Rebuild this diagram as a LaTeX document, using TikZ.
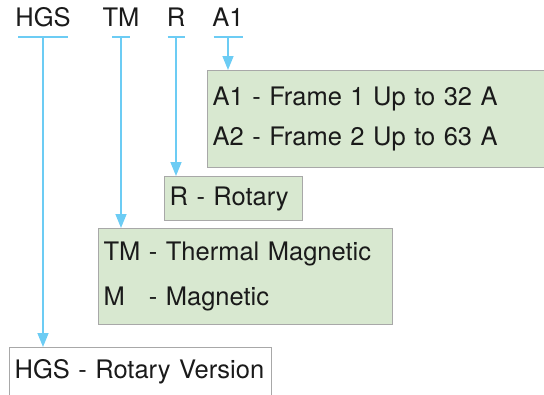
\documentclass[tikz,border=0pt]{standalone}
\usepackage{fontspec}
\setmainfont{TeX Gyre Heros}
\usetikzlibrary{arrows.meta, positioning}
\definecolor{connC}{RGB}{108, 204, 244}
\definecolor{boxG} {RGB}{216, 232, 208}
\definecolor{edgeC}{RGB}{168, 168, 168}
\definecolor{txtC} {RGB}{ 26,  26,  26}

\tikzset{
  code/.style={font=\fontsize{25.5}{30}\selectfont, text=txtC, inner xsep=0pt,
    inner ysep=10pt, text depth=0pt, anchor=south},
  bar/.style={connC, line width=1.5pt},
  conn/.style={connC, line width=1.5pt, -{Triangle[width=11pt, length=14pt]}},
  optbox/.style={draw=edgeC, fill=boxG, line width=1.2pt, inner xsep=5pt,
    inner ysep=0pt, align=left, anchor=north west, text=txtC,
    font=\fontsize{25.5}{30}\selectfont}
}

\begin{document}
\begin{tikzpicture}[x=1pt, y=-1pt]

\useasboundingbox (0,0) rectangle (544,394);
\begin{scope}
\clip (0,0) rectangle (544,394);

% Ordering code
\node[code] (hgs) at (43,37)  {HGS};
\node[code] (tm)  at (121,37) {TM};
\node[code] (r)   at (176,37) {R};
\node[code] (a1)  at (228,37) {A1};

% Option boxes
\node[optbox, text width=335pt, minimum height=97pt] (abox) at (207,70)
  {A1 - Frame 1 Up to 32 A\\[10pt]A2 - Frame 2 Up to 63 A};
\node[optbox, text width=128pt, minimum height=44pt] (rbox) at (164,176)
  {R - Rotary};
\node[optbox, text width=284pt, minimum height=96pt] (tmbox) at (98,228)
  {TM - Thermal Magnetic\\[15pt]M\hphantom{T} - Magnetic};
\node[optbox, fill=white, text width=252pt, minimum height=48pt] (hgsbox) at (9,347)
  {HGS - Rotary Version};

% Bars under the code
\foreach \n/\w in {hgs/25, tm/9, r/8.5, a1/14.5}
  \draw[bar] ([xshift=-\w pt]\n.south) -- ([xshift=\w pt]\n.south);

% Connectors
\draw[conn] (a1.south)  -- (a1.south |- abox.north);
\draw[conn] (r.south)   -- (r.south |- rbox.north);
\draw[conn] (tm.south)  -- (tm.south |- tmbox.north);
\draw[conn] (hgs.south) -- (hgs.south |- hgsbox.north);

\end{scope}
\end{tikzpicture}
\end{document}
